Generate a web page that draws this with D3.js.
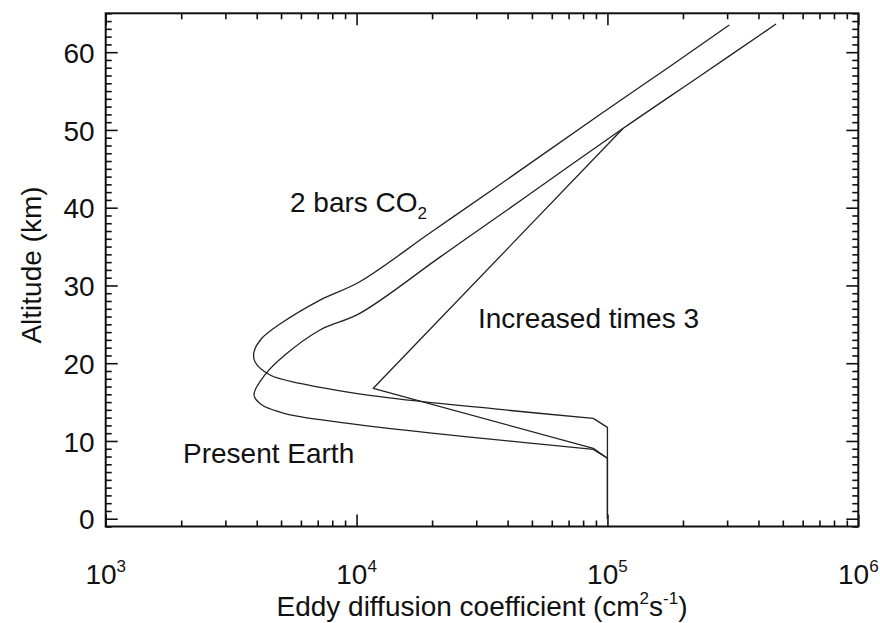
<!DOCTYPE html>
<html><head><meta charset="utf-8">
<script src="https://cdn.jsdelivr.net/npm/d3@7"></script>
<style>
body{margin:0;background:#fff}
svg text{font-family:"Liberation Sans",Arial,Helvetica,sans-serif;fill:#111}
</style>
</head><body><svg id="c" width="880" height="623"></svg>
<script>
// ---- data, ordered by altitude ----
const presentEarthK = [1e5, 1e5, 8.78e4, 1.24e4, 5.95e3, 4.95e3, 4.2e3, 3.9e3, 4.31e3, 5.18e3, 7.15e3, 1.03e4, 2.15e4, 4.48e4, 1.156e5, 2.34e5, 4.7e5];
const presentEarthZ = [0, 7.77, 8.92, 11.75, 13.12, 13.72, 14.62, 15.91, 18.49, 21.05, 24.27, 26.41, 33.64, 40.87, 50.21, 56.94, 63.62];

const co2K = [1e5, 1e5, 8.78e4, 3.73e4, 1.24e4, 5.95e3, 4.52e3, 3.94e3, 3.9e3, 4.2e3, 4.95e3, 7.15e3, 1.03e4, 1.96e4, 3.73e4, 9.34e4, 1.727e5, 3.06e5];
const co2Z = [0, 11.75, 12.91, 14.05, 15.69, 17.41, 18.48, 20.15, 21.44, 23.24, 25.04, 28.12, 30.48, 36.74, 42.99, 51.98, 57.91, 63.49];

const times3K = [1e5, 8.78e4, 1.166e4, 1.156e5];
const times3Z = [7.77, 9.05, 16.77, 50.21];

const xMajor = [1e3, 1e4, 1e5, 1e6];
const xExponents = ["3", "4", "5", "6"];
const yMajor = [0, 10, 20, 30, 40, 50, 60];

// ---- layout ----
const svg = d3.select("#c");
const L = 105.7, R = 858.3, T = 13.3, B = 526.5;
const FS = 28, SUP = 17;
const x = d3.scaleLog().domain([1e3, 1e6]).range([L, R]);
const y = d3.scaleLinear().domain([-1, 65]).range([B, T]);

const xMinor = [];
for (let d = 3; d < 6; d++) for (let m = 2; m <= 9; m++) xMinor.push(m * Math.pow(10, d));
const yMinor = d3.range(-1, 66, 1).filter(v => v % 10 !== 0);

function styleAxis(g) {
  g.select(".domain").remove();
  g.selectAll(".tick line").attr("stroke", "#111").attr("stroke-width", 1.6);
}

// bottom
svg.append("g").attr("transform", `translate(0,${B})`)
  .call(d3.axisBottom(x).tickValues(xMajor).tickSize(-12).tickFormat(""))
  .call(styleAxis);
svg.append("g").attr("transform", `translate(0,${B})`)
  .call(d3.axisBottom(x).tickValues(xMinor).tickSize(-6).tickFormat(""))
  .call(styleAxis);
// top
svg.append("g").attr("transform", `translate(0,${T})`)
  .call(d3.axisTop(x).tickValues(xMajor).tickSize(-12).tickFormat(""))
  .call(styleAxis);
svg.append("g").attr("transform", `translate(0,${T})`)
  .call(d3.axisTop(x).tickValues(xMinor).tickSize(-6).tickFormat(""))
  .call(styleAxis);
// left
svg.append("g").attr("transform", `translate(${L},0)`)
  .call(d3.axisLeft(y).tickValues(yMajor).tickSize(-12).tickPadding(11).tickFormat(d3.format("d")))
  .call(styleAxis)
  .call(g => g.selectAll("text").attr("font-size", FS).attr("fill", "#111").attr("dy", "0.36em")
    .attr("font-family", "Liberation Sans, Arial, sans-serif"));
svg.append("g").attr("transform", `translate(${L},0)`)
  .call(d3.axisLeft(y).tickValues(yMinor).tickSize(-6).tickFormat(""))
  .call(styleAxis);
// right
svg.append("g").attr("transform", `translate(${R},0)`)
  .call(d3.axisRight(y).tickValues(yMajor).tickSize(-12).tickFormat(""))
  .call(styleAxis);
svg.append("g").attr("transform", `translate(${R},0)`)
  .call(d3.axisRight(y).tickValues(yMinor).tickSize(-6).tickFormat(""))
  .call(styleAxis);

// frame
svg.append("rect").attr("x", L).attr("y", T).attr("width", R - L).attr("height", B - T)
  .attr("fill", "none").attr("stroke", "#111").attr("stroke-width", 2);

// x tick labels with superscripts
xMajor.forEach((v, i) => {
  const t = svg.append("text").attr("x", x(v)).attr("y", 584).attr("text-anchor", "middle").attr("font-size", FS);
  t.append("tspan").text("10");
  t.append("tspan").attr("font-size", SUP).attr("dy", -12).text(xExponents[i]);
});

// axis titles
const xt = svg.append("text").attr("x", 482).attr("y", 616).attr("text-anchor", "middle").attr("font-size", FS);
xt.append("tspan").text("Eddy diffusion coefficient (cm");
xt.append("tspan").attr("font-size", SUP).attr("dy", -12).text("2");
xt.append("tspan").attr("dy", 12).text("s");
xt.append("tspan").attr("font-size", SUP).attr("dy", -12).text("-1");
xt.append("tspan").attr("dy", 12).text(")");

svg.append("text").attr("transform", "translate(41,265) rotate(-90)")
  .attr("text-anchor", "middle").attr("font-size", FS).text("Altitude (km)");

// curves: sharp corners at the tropopause kink, smooth above
const smooth = d3.line().x(d => x(d[0])).y(d => y(d[1])).curve(d3.curveCatmullRom.alpha(0.5));
const straight = d3.line().x(d => x(d[0])).y(d => y(d[1]));
function path(pts, gen) {
  svg.append("path").datum(pts)
    .attr("d", gen).attr("fill", "none").attr("stroke", "#222").attr("stroke-width", 1.3)
    .attr("stroke-linejoin", "round");
}
function draw(K, Z, split) {
  const pts = K.map((k, i) => [k, Z[i]]);
  if (split == null) { path(pts, straight); return; }
  path(pts.slice(0, split + 1), straight);
  path(pts.slice(split), smooth);
}
draw(presentEarthK, presentEarthZ, 2);
draw(co2K, co2Z, 2);
draw(times3K, times3Z, null);

// annotations
const co2 = svg.append("text").attr("x", 290).attr("y", 212).attr("font-size", FS);
co2.append("tspan").text("2 bars CO");
co2.append("tspan").attr("font-size", SUP).attr("dy", 7).text("2");
svg.append("text").attr("x", 478).attr("y", 328).attr("font-size", FS).text("Increased times 3");
svg.append("text").attr("x", 183).attr("y", 463).attr("font-size", FS).text("Present Earth");
</script>
</body></html>
